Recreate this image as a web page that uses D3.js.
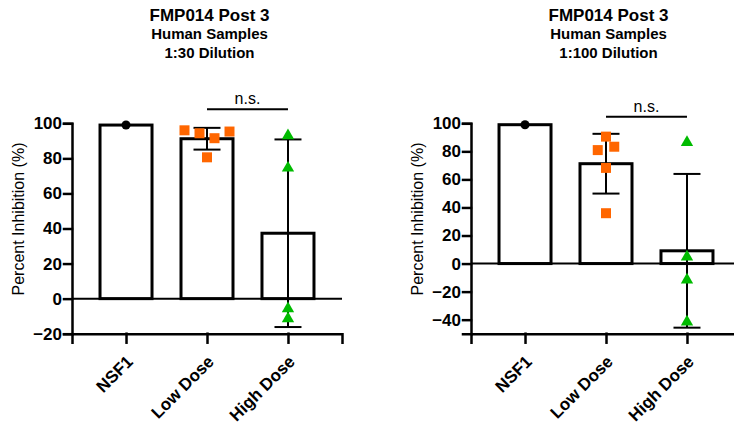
<!DOCTYPE html>
<html>
<head>
<meta charset="utf-8">
<script src="https://cdn.jsdelivr.net/npm/d3@7"></script>
<style>
    body { margin: 0; background: #fff; }
    svg text { font-family: "Liberation Sans", Arial, sans-serif; fill: #000; }
</style>
</head>
<body>
<div class="chart"></div>
<script>
//Width and height
var w = 734;
var h = 425;

//Groups
var categories = ["NSF1", "Low Dose", "High Dose"];

//Panel 1: 1:30 dilution
var titles30 = ["FMP014 Post 3", "Human Samples", "1:30 Dilution"];
var yDomain30 = [-20, 100];
var yTicks30 = [-20, 0, 20, 40, 60, 80, 100];
var means30 = [99, 91.2, 37.3];
var sd30 = [0, 6.2, 53.5];
var nsf30 = [99];
var low30 = [96, 94.3, 91.5, 95.3, 80.6];
var high30 = [93, 74.5, -5.7, -11.4];

//Panel 2: 1:100 dilution
var titles100 = ["FMP014 Post 3", "Human Samples", "1:100 Dilution"];
var yDomain100 = [-50, 100];
var yTicks100 = [-40, -20, 0, 20, 40, 60, 80, 100];
var means100 = [99, 71.2, 9.1];
var sd100 = [0, 21.3, 54.8];
var nsf100 = [99];
var low100 = [90.5, 80.9, 83.3, 68.2, 35.9];
var high100 = [86.4, 4.8, -11.6, -41.6];

//Comparison label (between group 2 and 3)
var sigLabel = "n.s.";

var pointColors = ["#000000", "#ff6600", "#00bb00"];
var pointShapes = [d3.symbolCircle, d3.symbolSquare, d3.symbolTriangle];
var pointSizes = [64, 100, 66];

var svg = d3.select(".chart")
    .append("svg")
    .attr("width", w)
    .attr("height", h);

//Spread points that sit on the same height side by side
function scatterX(values, yScale, cx) {
    var ys = values.map((v) => yScale(v));
    var order = d3.range(values.length).sort((a, b) => ys[a] - ys[b]);
    var groups = [];
    order.forEach((i) => {
        var g = groups[groups.length - 1];
        if (g && ys[i] - ys[g[0]] < 9) g.push(i);
        else groups.push([i]);
    });
    var xs = [];
    var step = groups.some((g) => g.length > 2) ? 15 : 16.5;
    groups.forEach((g) => {
        g.sort((a, b) => a - b);
        g.forEach((i, k) => {
            xs[i] = cx + (k - (g.length - 1) / 2) * step;
        });
    });
    return xs;
}

function drawPanel(left, titles, yDomain, yTicks, means, sds, groups) {
    var top = 123.3, bottom = 333.7, plotW = 270;
    var g = svg.append("g");

    var xScale = d3.scalePoint()
        .domain(categories)
        .range([left, left + plotW])
        .padding(0.667);

    var yScale = d3.scaleLinear()
        .domain(yDomain)
        .range([bottom, top]);

    var barW = 52, capW = 27;

    //Titles
    var cx = left + 137.5;
    g.append("text").attr("x", cx).attr("y", 20.5)
        .attr("text-anchor", "middle").style("font-size", "17px").style("font-weight", "bold")
        .text(titles[0]);
    g.append("text").attr("x", cx).attr("y", 39.3)
        .attr("text-anchor", "middle").style("font-size", "15px").style("font-weight", "bold")
        .text(titles[1]);
    g.append("text").attr("x", cx).attr("y", 58.3)
        .attr("text-anchor", "middle").style("font-size", "15px").style("font-weight", "bold")
        .text(titles[2]);

    //Bars
    g.selectAll("rect.bar")
        .data(means)
        .enter()
        .append("rect")
        .attr("class", "bar")
        .attr("x", (d, i) => xScale(categories[i]) - barW / 2)
        .attr("y", (d) => yScale(Math.max(d, 0)))
        .attr("width", barW)
        .attr("height", (d) => Math.abs(yScale(d) - yScale(0)))
        .attr("fill", "#fff")
        .attr("stroke", "#000")
        .attr("stroke-width", 3);

    //Zero line
    g.append("line")
        .attr("x1", left).attr("x2", left + plotW)
        .attr("y1", yScale(0)).attr("y2", yScale(0))
        .attr("stroke", "#000").attr("stroke-width", 2);

    //Error bars (mean +/- SD)
    means.forEach((m, i) => {
        if (!sds[i]) return;
        var x = xScale(categories[i]);
        var eb = g.append("g").attr("stroke", "#000").attr("stroke-width", 2);
        eb.append("line").attr("x1", x).attr("x2", x)
            .attr("y1", yScale(m - sds[i])).attr("y2", yScale(m + sds[i]));
        [m - sds[i], m + sds[i]].forEach((v) => {
            eb.append("line").attr("x1", x - capW / 2).attr("x2", x + capW / 2)
                .attr("y1", yScale(v)).attr("y2", yScale(v));
        });
    });

    //Individual points
    groups.forEach((vals, i) => {
        var xs = scatterX(vals, yScale, xScale(categories[i]));
        g.selectAll(null)
            .data(vals)
            .enter()
            .append("path")
            .attr("d", d3.symbol().type(pointShapes[i]).size(pointSizes[i]))
            .attr("transform", (d, k) => "translate(" + xs[k] + "," + yScale(d) + ")")
            .attr("fill", pointColors[i]);
    });

    //Axes
    var yAxis = d3.axisLeft(yScale)
        .tickValues(yTicks)
        .tickSizeOuter(0)
        .tickSize(8)
        .tickPadding(2);
    var yg = g.append("g")
        .attr("transform", "translate(" + left + ",0)")
        .call(yAxis);
    yg.selectAll("text").style("font-size", "17px").style("font-weight", "bold");

    var xAxis = d3.axisBottom(xScale)
        .tickSizeOuter(0)
        .tickSize(9)
        .tickFormat("");
    var xg = g.append("g")
        .attr("transform", "translate(0," + bottom + ")")
        .call(xAxis);

    [yg, xg].forEach((a) => {
        a.selectAll("path, line").attr("stroke", "#000").attr("stroke-width", 2.5)
            .attr("stroke-linecap", "square");
    });

    //Rotated category labels
    g.selectAll("text.cat")
        .data(categories)
        .enter()
        .append("text")
        .attr("class", "cat")
        .attr("transform", (d) => "translate(" + (xScale(d) + 8) + "," + (bottom + 29) + ") rotate(-45)")
        .attr("text-anchor", "end")
        .style("font-size", "17px")
        .style("font-weight", "bold")
        .text((d) => d);

    //Y axis title
    g.append("text")
        .attr("transform", "translate(" + (left - 48) + ",219) rotate(-90)")
        .attr("text-anchor", "middle")
        .style("font-size", "16px")
        .text("Percent Inhibition (%)");

    //Significance bracket
    var sx1 = xScale(categories[1]), sx2 = xScale(categories[2]);
    var sy = top - 14 + (yDomain[0] === -50 ? 7.4 : 0);
    g.append("line")
        .attr("x1", sx1).attr("x2", sx2)
        .attr("y1", sy).attr("y2", sy)
        .attr("stroke", "#000").attr("stroke-width", 2);
    g.append("text")
        .attr("x", (sx1 + sx2) / 2)
        .attr("y", sy - 5)
        .attr("text-anchor", "middle")
        .style("font-size", "16px")
        .text(sigLabel);
}

drawPanel(72, titles30, yDomain30, yTicks30, means30, sd30, [nsf30, low30, high30]);
drawPanel(471, titles100, yDomain100, yTicks100, means100, sd100, [nsf100, low100, high100]);
</script>
</body>
</html>
